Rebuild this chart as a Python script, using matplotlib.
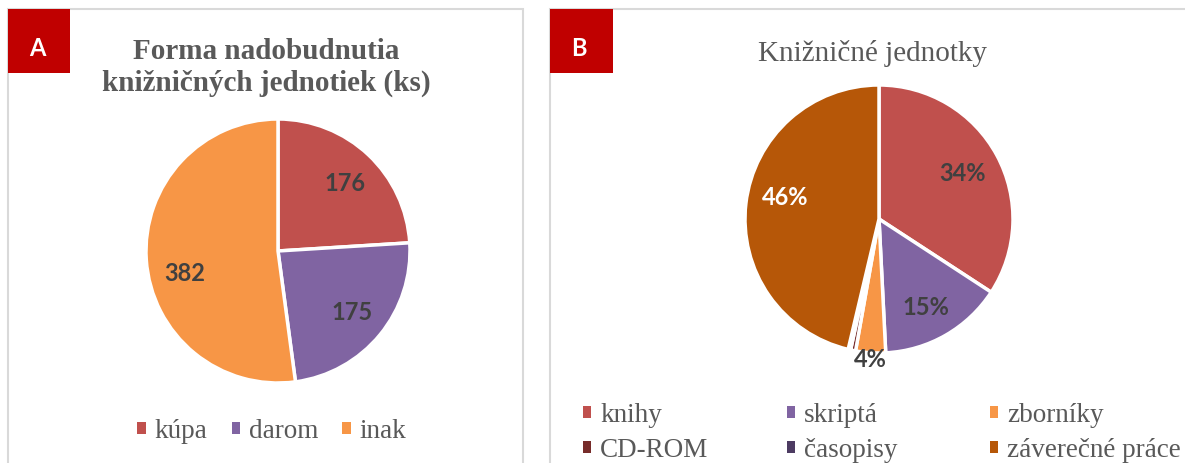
import numpy as np
import matplotlib
matplotlib.use("Agg")
import matplotlib.pyplot as plt
from matplotlib.patches import Rectangle

# ---------------- data ----------------
a_title = "Forma nadobudnutia\nknižničných jednotiek (ks)"
a_labels = ["kúpa", "darom", "inak"]
a_values = [176, 175, 382]
a_colors = ["#C0504D", "#8064A2", "#F79646"]
a_label_dist = [0.72, 0.73, 0.725]
a_label_rot = [1.5, 0.0, -9.5]   # degrees, clockwise shift of label from wedge middle

b_title = "Knižničné jednotky"
b_labels = ["knihy", "skriptá", "zborníky", "CD-ROM", "časopisy", "záverečné práce"]
b_values = [34.2, 15.0, 3.6, 0.6, 0.3, 46.3]
b_colors = ["#C0504D", "#8064A2", "#F79646", "#772C2A", "#4D3B62", "#B65708"]
b_show_label = [True, True, True, False, False, True]
b_label_dist = [0.71, 0.75, 1.05, 0.7, 0.7, 0.72]
b_label_rot = [0.0, 2.0, 0.0, 0.0, 0.0, 6.0]
b_label_color = ["#404040", "#404040", "#404040", "#404040", "#404040", "white"]

# ---------------- layout helpers ----------------
W, H = 1185, 463
fig = plt.figure(figsize=(W / 100, H / 100), dpi=100)
fig.patch.set_facecolor("white")


def fx(x):
    return x / W


def fy(y):
    return 1 - y / H


def add_px_axes(left, top, width, height):
    return fig.add_axes([fx(left), fy(top + height), width / W, height / H])


def proxies(wedges):
    return [Rectangle((0, 0), 1, 1, facecolor=w.get_facecolor(), edgecolor="none")
            for w in wedges]


# panel frames
for (x0, x1) in [(8, 523), (550, 1200)]:
    fig.patches.append(Rectangle((fx(x0), fy(480)), fx(x1) - fx(x0), fy(9) - fy(480),
                                 transform=fig.transFigure, facecolor="none",
                                 edgecolor="#D9D9D9", linewidth=1.5, zorder=0))

# red tags
for (x0, x1, lx, letter) in [(8, 70, 37, "A"), (550, 613, 579, "B")]:
    fig.patches.append(Rectangle((fx(x0), fy(73)), fx(x1) - fx(x0), fy(9) - fy(73),
                                 transform=fig.transFigure, facecolor="#C00000",
                                 edgecolor="none", zorder=5))
    fig.text(fx(lx), fy(48), letter, color="white", fontsize=17,
             fontweight="bold", family="Lato", ha="center", va="center", zorder=6)

# titles
fig.text(fx(266), fy(91), a_title, ha="center", va="baseline", fontsize=21,
         fontweight="bold", family="Liberation Serif", color="#595959", linespacing=1.25)
fig.text(fx(872), fy(61), b_title, ha="center", va="baseline", fontsize=21,
         family="Liberation Serif", color="#595959")


def place_labels(ax, wedges, texts, dists, rots, colors):
    for w, t, d, r, c in zip(wedges, texts, dists, rots, colors):
        if t is None:
            continue
        ang = np.deg2rad((w.theta1 + w.theta2) / 2 - r)
        ax.text(d * np.cos(ang), d * np.sin(ang), t, ha="center", va="center",
                fontsize=17, fontweight="bold", family="Lato", color=c)


# ---------------- pie A ----------------
cxa, cya, ra = 278, 251, 132
axa = add_px_axes(cxa - ra, cya - ra, 2 * ra, 2 * ra)
wa, _ = axa.pie(a_values, colors=a_colors, startangle=90, counterclock=False,
                radius=1.0, wedgeprops=dict(edgecolor="white", linewidth=2.5))
place_labels(axa, wa, [str(v) for v in a_values], a_label_dist, a_label_rot,
             ["#404040"] * len(a_values))
axa.set_xlim(-1, 1)
axa.set_ylim(-1, 1)
axa.axis("off")

fig.legend(proxies(wa), a_labels, loc="center", bbox_to_anchor=(fx(272), fy(431)), ncol=3,
           frameon=False, handlelength=0.31, handleheight=0.31, handletextpad=0.33,
           columnspacing=0.89, borderpad=0, borderaxespad=0,
           prop=dict(family="Liberation Serif", size=19.5), labelcolor="#595959")

# ---------------- pie B ----------------
cxb, cyb, rb = 879, 219, 134
axb = add_px_axes(cxb - rb, cyb - rb, 2 * rb, 2 * rb)
wb, _ = axb.pie(b_values, colors=b_colors, startangle=90, counterclock=False,
                radius=1.0, wedgeprops=dict(edgecolor="white", linewidth=2.5))
place_labels(axb, wb, [f"{v:.0f}%" if s else None for v, s in zip(b_values, b_show_label)],
             b_label_dist, b_label_rot, b_label_color)
axb.set_xlim(-1, 1)
axb.set_ylim(-1, 1)
axb.axis("off")

pb = proxies(wb)
col_x = [583, 787, 990]
for ci in range(3):
    idx = [ci, ci + 3]
    fig.legend([pb[i] for i in idx], [b_labels[i] for i in idx], loc="upper left",
               bbox_to_anchor=(fx(col_x[ci]), fy(403)), ncol=1, frameon=False,
               handlelength=0.31, handleheight=0.31, handletextpad=0.33,
               labelspacing=0.36, borderpad=0, borderaxespad=0,
               prop=dict(family="Liberation Serif", size=19.5), labelcolor="#595959")

fig.savefig("out.png", dpi=100, facecolor="white")
